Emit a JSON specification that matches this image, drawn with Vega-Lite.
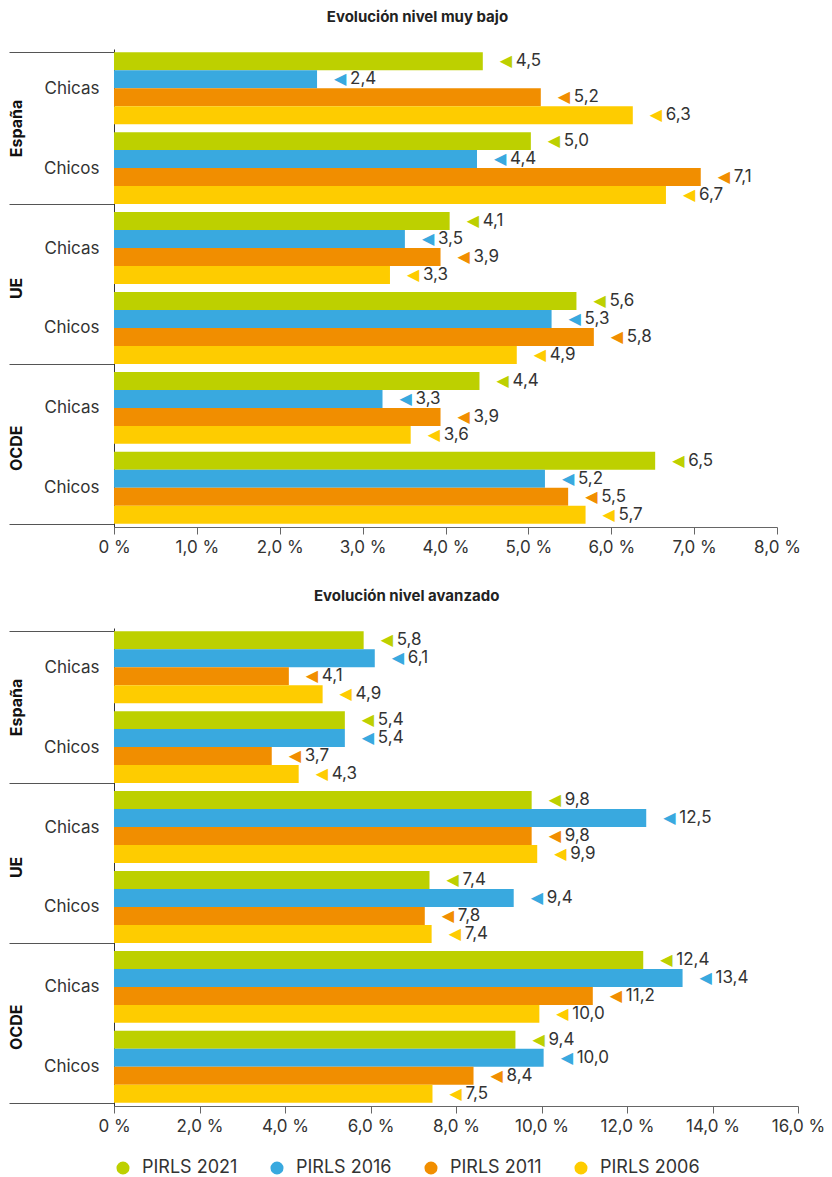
{
  "$schema": "https://vega.github.io/schema/vega-lite/v6.json",
  "padding": {"left": 8, "top": 10, "right": 3, "bottom": 5},
  "spacing": 34,
  "config": {
    "font": "Inter",
    "view": {"stroke": null},
    "locale": {"number": {"decimal": ",", "thousands": ".", "grouping": [3], "currency": ["", " €"]}},
    "axis": {"labelFont": "Inter", "labelFontSize": 17, "labelColor": "#333", "title": null, "grid": false},
    "legend": {"labelFont": "Inter", "labelFontSize": 18, "labelColor": "#333"}
  },
  "resolve": {"scale": {"color": "shared"}, "legend": {"color": "shared"}},
  "datasets": {
    "bajo": [
      {"region": "España", "genero": "Chicas", "grupo": "España|Chicas", "serie": "PIRLS 2021", "valor": 4.45, "etiqueta": 4.5},
      {"region": "España", "genero": "Chicas", "grupo": "España|Chicas", "serie": "PIRLS 2016", "valor": 2.45, "etiqueta": 2.4},
      {"region": "España", "genero": "Chicas", "grupo": "España|Chicas", "serie": "PIRLS 2011", "valor": 5.15, "etiqueta": 5.2},
      {"region": "España", "genero": "Chicas", "grupo": "España|Chicas", "serie": "PIRLS 2006", "valor": 6.26, "etiqueta": 6.3},
      {"region": "España", "genero": "Chicos", "grupo": "España|Chicos", "serie": "PIRLS 2021", "valor": 5.03, "etiqueta": 5.0},
      {"region": "España", "genero": "Chicos", "grupo": "España|Chicos", "serie": "PIRLS 2016", "valor": 4.38, "etiqueta": 4.4},
      {"region": "España", "genero": "Chicos", "grupo": "España|Chicos", "serie": "PIRLS 2011", "valor": 7.08, "etiqueta": 7.1},
      {"region": "España", "genero": "Chicos", "grupo": "España|Chicos", "serie": "PIRLS 2006", "valor": 6.66, "etiqueta": 6.7},
      {"region": "UE", "genero": "Chicas", "grupo": "UE|Chicas", "serie": "PIRLS 2021", "valor": 4.05, "etiqueta": 4.1},
      {"region": "UE", "genero": "Chicas", "grupo": "UE|Chicas", "serie": "PIRLS 2016", "valor": 3.51, "etiqueta": 3.5},
      {"region": "UE", "genero": "Chicas", "grupo": "UE|Chicas", "serie": "PIRLS 2011", "valor": 3.94, "etiqueta": 3.9},
      {"region": "UE", "genero": "Chicas", "grupo": "UE|Chicas", "serie": "PIRLS 2006", "valor": 3.33, "etiqueta": 3.3},
      {"region": "UE", "genero": "Chicos", "grupo": "UE|Chicos", "serie": "PIRLS 2021", "valor": 5.58, "etiqueta": 5.6},
      {"region": "UE", "genero": "Chicos", "grupo": "UE|Chicos", "serie": "PIRLS 2016", "valor": 5.28, "etiqueta": 5.3},
      {"region": "UE", "genero": "Chicos", "grupo": "UE|Chicos", "serie": "PIRLS 2011", "valor": 5.79, "etiqueta": 5.8},
      {"region": "UE", "genero": "Chicos", "grupo": "UE|Chicos", "serie": "PIRLS 2006", "valor": 4.86, "etiqueta": 4.9},
      {"region": "OCDE", "genero": "Chicas", "grupo": "OCDE|Chicas", "serie": "PIRLS 2021", "valor": 4.41, "etiqueta": 4.4},
      {"region": "OCDE", "genero": "Chicas", "grupo": "OCDE|Chicas", "serie": "PIRLS 2016", "valor": 3.24, "etiqueta": 3.3},
      {"region": "OCDE", "genero": "Chicas", "grupo": "OCDE|Chicas", "serie": "PIRLS 2011", "valor": 3.94, "etiqueta": 3.9},
      {"region": "OCDE", "genero": "Chicas", "grupo": "OCDE|Chicas", "serie": "PIRLS 2006", "valor": 3.58, "etiqueta": 3.6},
      {"region": "OCDE", "genero": "Chicos", "grupo": "OCDE|Chicos", "serie": "PIRLS 2021", "valor": 6.53, "etiqueta": 6.5},
      {"region": "OCDE", "genero": "Chicos", "grupo": "OCDE|Chicos", "serie": "PIRLS 2016", "valor": 5.2, "etiqueta": 5.2},
      {"region": "OCDE", "genero": "Chicos", "grupo": "OCDE|Chicos", "serie": "PIRLS 2011", "valor": 5.48, "etiqueta": 5.5},
      {"region": "OCDE", "genero": "Chicos", "grupo": "OCDE|Chicos", "serie": "PIRLS 2006", "valor": 5.69, "etiqueta": 5.7}
    ],
    "avanzado": [
      {"region": "España", "genero": "Chicas", "grupo": "España|Chicas", "serie": "PIRLS 2021", "valor": 5.84, "etiqueta": 5.8},
      {"region": "España", "genero": "Chicas", "grupo": "España|Chicas", "serie": "PIRLS 2016", "valor": 6.1, "etiqueta": 6.1},
      {"region": "España", "genero": "Chicas", "grupo": "España|Chicas", "serie": "PIRLS 2011", "valor": 4.09, "etiqueta": 4.1},
      {"region": "España", "genero": "Chicas", "grupo": "España|Chicas", "serie": "PIRLS 2006", "valor": 4.88, "etiqueta": 4.9},
      {"region": "España", "genero": "Chicos", "grupo": "España|Chicos", "serie": "PIRLS 2021", "valor": 5.4, "etiqueta": 5.4},
      {"region": "España", "genero": "Chicos", "grupo": "España|Chicos", "serie": "PIRLS 2016", "valor": 5.4, "etiqueta": 5.4},
      {"region": "España", "genero": "Chicos", "grupo": "España|Chicos", "serie": "PIRLS 2011", "valor": 3.69, "etiqueta": 3.7},
      {"region": "España", "genero": "Chicos", "grupo": "España|Chicos", "serie": "PIRLS 2006", "valor": 4.32, "etiqueta": 4.3},
      {"region": "UE", "genero": "Chicas", "grupo": "UE|Chicas", "serie": "PIRLS 2021", "valor": 9.77, "etiqueta": 9.8},
      {"region": "UE", "genero": "Chicas", "grupo": "UE|Chicas", "serie": "PIRLS 2016", "valor": 12.45, "etiqueta": 12.5},
      {"region": "UE", "genero": "Chicas", "grupo": "UE|Chicas", "serie": "PIRLS 2011", "valor": 9.77, "etiqueta": 9.8},
      {"region": "UE", "genero": "Chicas", "grupo": "UE|Chicas", "serie": "PIRLS 2006", "valor": 9.9, "etiqueta": 9.9},
      {"region": "UE", "genero": "Chicos", "grupo": "UE|Chicos", "serie": "PIRLS 2021", "valor": 7.38, "etiqueta": 7.4},
      {"region": "UE", "genero": "Chicos", "grupo": "UE|Chicos", "serie": "PIRLS 2016", "valor": 9.35, "etiqueta": 9.4},
      {"region": "UE", "genero": "Chicos", "grupo": "UE|Chicos", "serie": "PIRLS 2011", "valor": 7.27, "etiqueta": 7.8},
      {"region": "UE", "genero": "Chicos", "grupo": "UE|Chicos", "serie": "PIRLS 2006", "valor": 7.43, "etiqueta": 7.4},
      {"region": "OCDE", "genero": "Chicas", "grupo": "OCDE|Chicas", "serie": "PIRLS 2021", "valor": 12.38, "etiqueta": 12.4},
      {"region": "OCDE", "genero": "Chicas", "grupo": "OCDE|Chicas", "serie": "PIRLS 2016", "valor": 13.3, "etiqueta": 13.4},
      {"region": "OCDE", "genero": "Chicas", "grupo": "OCDE|Chicas", "serie": "PIRLS 2011", "valor": 11.2, "etiqueta": 11.2},
      {"region": "OCDE", "genero": "Chicas", "grupo": "OCDE|Chicas", "serie": "PIRLS 2006", "valor": 9.95, "etiqueta": 10.0},
      {"region": "OCDE", "genero": "Chicos", "grupo": "OCDE|Chicos", "serie": "PIRLS 2021", "valor": 9.39, "etiqueta": 9.4},
      {"region": "OCDE", "genero": "Chicos", "grupo": "OCDE|Chicos", "serie": "PIRLS 2016", "valor": 10.05, "etiqueta": 10.0},
      {"region": "OCDE", "genero": "Chicos", "grupo": "OCDE|Chicos", "serie": "PIRLS 2011", "valor": 8.41, "etiqueta": 8.4},
      {"region": "OCDE", "genero": "Chicos", "grupo": "OCDE|Chicos", "serie": "PIRLS 2006", "valor": 7.45, "etiqueta": 7.5}
    ]
  },
  "vconcat": [
    {
      "width": 663,
      "height": 478,
      "title": {"text": "Evolución nivel muy bajo", "font": "Inter", "fontSize": 15, "fontWeight": "bold", "color": "#222", "anchor": "middle", "frame": "bounds", "offset": 15, "dx": 13},
      "data": {"name": "bajo"},
      "layer": [
        {
          "mark": {"type": "bar"},
          "encoding": {
            "y": {"field": "grupo", "type": "nominal", "sort": ["España|Chicas", "España|Chicos", "UE|Chicas", "UE|Chicos", "OCDE|Chicas", "OCDE|Chicos"], "scale": {"paddingInner": 0.1, "paddingOuter": 0.04},
              "axis": {"labelExpr": "split(datum.value, '|')[1]", "tickBand": "extent", "tickSize": 105, "tickColor": {"condition": {"test": "datum.value != null && indexof(datum.value, 'Chicas') >= 0", "value": "transparent"}, "value": "#555"}, "labelPadding": -90, "domainColor": "#333", "labelFontSize": 17}},
            "yOffset": {"field": "serie", "type": "nominal", "sort": ["PIRLS 2021", "PIRLS 2016", "PIRLS 2011", "PIRLS 2006"], "scale": {"paddingInner": 0, "paddingOuter": 0}},
            "x": {"field": "valor", "type": "quantitative", "scale": {"domain": [0, 8], "nice": false},
              "axis": {"values": [0, 1, 2, 3, 4, 5, 6, 7, 8], "format": ".1f", "labelExpr": "datum.value === 0 ? '0 %' : datum.label + ' %'", "labelFlush": false, "tickSize": 7, "tickColor": "#666", "domainColor": "#666", "labelPadding": 5}},
            "color": {"field": "serie", "type": "nominal", "sort": ["PIRLS 2021", "PIRLS 2016", "PIRLS 2011", "PIRLS 2006"],
              "scale": {"domain": ["PIRLS 2021", "PIRLS 2016", "PIRLS 2011", "PIRLS 2006"], "range": ["#BDD000", "#39A9DF", "#F18E00", "#FECC00"]},
              "legend": {"orient": "bottom", "direction": "horizontal", "title": null, "symbolType": "circle", "symbolSize": 170, "labelFontSize": 18, "columnPadding": 30, "labelOffset": 10, "offset": 25}}
          }
        },
        {
          "mark": {"type": "text", "text": "◀", "font": "DejaVu Sans", "fontSize": 16, "align": "left", "baseline": "middle", "dx": 17},
          "encoding": {
            "y": {"field": "grupo", "type": "nominal", "sort": ["España|Chicas", "España|Chicos", "UE|Chicas", "UE|Chicos", "OCDE|Chicas", "OCDE|Chicos"]},
            "yOffset": {"field": "serie", "type": "nominal", "sort": ["PIRLS 2021", "PIRLS 2016", "PIRLS 2011", "PIRLS 2006"]},
            "x": {"field": "valor", "type": "quantitative"},
            "color": {"field": "serie", "type": "nominal", "legend": null}
          }
        },
        {
          "mark": {"type": "text", "align": "left", "baseline": "middle", "dx": 33, "fontSize": 17, "color": "#333", "font": "Inter"},
          "encoding": {
            "y": {"field": "grupo", "type": "nominal", "sort": ["España|Chicas", "España|Chicos", "UE|Chicas", "UE|Chicos", "OCDE|Chicas", "OCDE|Chicos"]},
            "yOffset": {"field": "serie", "type": "nominal", "sort": ["PIRLS 2021", "PIRLS 2016", "PIRLS 2011", "PIRLS 2006"]},
            "x": {"field": "valor", "type": "quantitative"},
            "text": {"field": "etiqueta", "type": "quantitative", "format": ".1f"}
          }
        },
        {
          "transform": [{"filter": "datum.serie === 'PIRLS 2021' && datum.genero === 'Chicos'"}],
          "mark": {"type": "text", "angle": 270, "dy": -97, "fontWeight": "bold", "fontSize": 16, "align": "center", "baseline": "middle", "color": "#111", "font": "Inter"},
          "encoding": {
            "y": {"field": "grupo", "type": "nominal", "bandPosition": -0.05, "sort": ["España|Chicas", "España|Chicos", "UE|Chicas", "UE|Chicos", "OCDE|Chicas", "OCDE|Chicos"]},
            "x": {"datum": 0, "type": "quantitative"},
            "text": {"field": "region", "type": "nominal"}
          }
        }
      ]
    },
    {
      "width": 684,
      "height": 478,
      "title": {"text": "Evolución nivel avanzado", "font": "Inter", "fontSize": 15, "fontWeight": "bold", "color": "#222", "anchor": "middle", "frame": "bounds", "offset": 15, "dx": -10},
      "data": {"name": "avanzado"},
      "layer": [
        {
          "mark": {"type": "bar"},
          "encoding": {
            "y": {"field": "grupo", "type": "nominal", "sort": ["España|Chicas", "España|Chicos", "UE|Chicas", "UE|Chicos", "OCDE|Chicas", "OCDE|Chicos"], "scale": {"paddingInner": 0.1, "paddingOuter": 0.04},
              "axis": {"labelExpr": "split(datum.value, '|')[1]", "tickBand": "extent", "tickSize": 105, "tickColor": {"condition": {"test": "datum.value != null && indexof(datum.value, 'Chicas') >= 0", "value": "transparent"}, "value": "#555"}, "labelPadding": -90, "domainColor": "#333", "labelFontSize": 17}},
            "yOffset": {"field": "serie", "type": "nominal", "sort": ["PIRLS 2021", "PIRLS 2016", "PIRLS 2011", "PIRLS 2006"], "scale": {"paddingInner": 0, "paddingOuter": 0}},
            "x": {"field": "valor", "type": "quantitative", "scale": {"domain": [0, 16], "nice": false},
              "axis": {"values": [0, 2, 4, 6, 8, 10, 12, 14, 16], "format": ".1f", "labelExpr": "datum.value === 0 ? '0 %' : datum.label + ' %'", "labelFlush": false, "tickSize": 7, "tickColor": "#666", "domainColor": "#666", "labelPadding": 5}},
            "color": {"field": "serie", "type": "nominal", "sort": ["PIRLS 2021", "PIRLS 2016", "PIRLS 2011", "PIRLS 2006"],
              "scale": {"domain": ["PIRLS 2021", "PIRLS 2016", "PIRLS 2011", "PIRLS 2006"], "range": ["#BDD000", "#39A9DF", "#F18E00", "#FECC00"]},
              "legend": {"orient": "bottom", "direction": "horizontal", "title": null, "symbolType": "circle", "symbolSize": 170, "labelFontSize": 18, "columnPadding": 30, "labelOffset": 10, "offset": 25}}
          }
        },
        {
          "mark": {"type": "text", "text": "◀", "font": "DejaVu Sans", "fontSize": 16, "align": "left", "baseline": "middle", "dx": 17},
          "encoding": {
            "y": {"field": "grupo", "type": "nominal", "sort": ["España|Chicas", "España|Chicos", "UE|Chicas", "UE|Chicos", "OCDE|Chicas", "OCDE|Chicos"]},
            "yOffset": {"field": "serie", "type": "nominal", "sort": ["PIRLS 2021", "PIRLS 2016", "PIRLS 2011", "PIRLS 2006"]},
            "x": {"field": "valor", "type": "quantitative"},
            "color": {"field": "serie", "type": "nominal", "legend": null}
          }
        },
        {
          "mark": {"type": "text", "align": "left", "baseline": "middle", "dx": 33, "fontSize": 17, "color": "#333", "font": "Inter"},
          "encoding": {
            "y": {"field": "grupo", "type": "nominal", "sort": ["España|Chicas", "España|Chicos", "UE|Chicas", "UE|Chicos", "OCDE|Chicas", "OCDE|Chicos"]},
            "yOffset": {"field": "serie", "type": "nominal", "sort": ["PIRLS 2021", "PIRLS 2016", "PIRLS 2011", "PIRLS 2006"]},
            "x": {"field": "valor", "type": "quantitative"},
            "text": {"field": "etiqueta", "type": "quantitative", "format": ".1f"}
          }
        },
        {
          "transform": [{"filter": "datum.serie === 'PIRLS 2021' && datum.genero === 'Chicos'"}],
          "mark": {"type": "text", "angle": 270, "dy": -97, "fontWeight": "bold", "fontSize": 16, "align": "center", "baseline": "middle", "color": "#111", "font": "Inter"},
          "encoding": {
            "y": {"field": "grupo", "type": "nominal", "bandPosition": -0.05, "sort": ["España|Chicas", "España|Chicos", "UE|Chicas", "UE|Chicos", "OCDE|Chicas", "OCDE|Chicos"]},
            "x": {"datum": 0, "type": "quantitative"},
            "text": {"field": "region", "type": "nominal"}
          }
        }
      ]
    }
  ]
}
